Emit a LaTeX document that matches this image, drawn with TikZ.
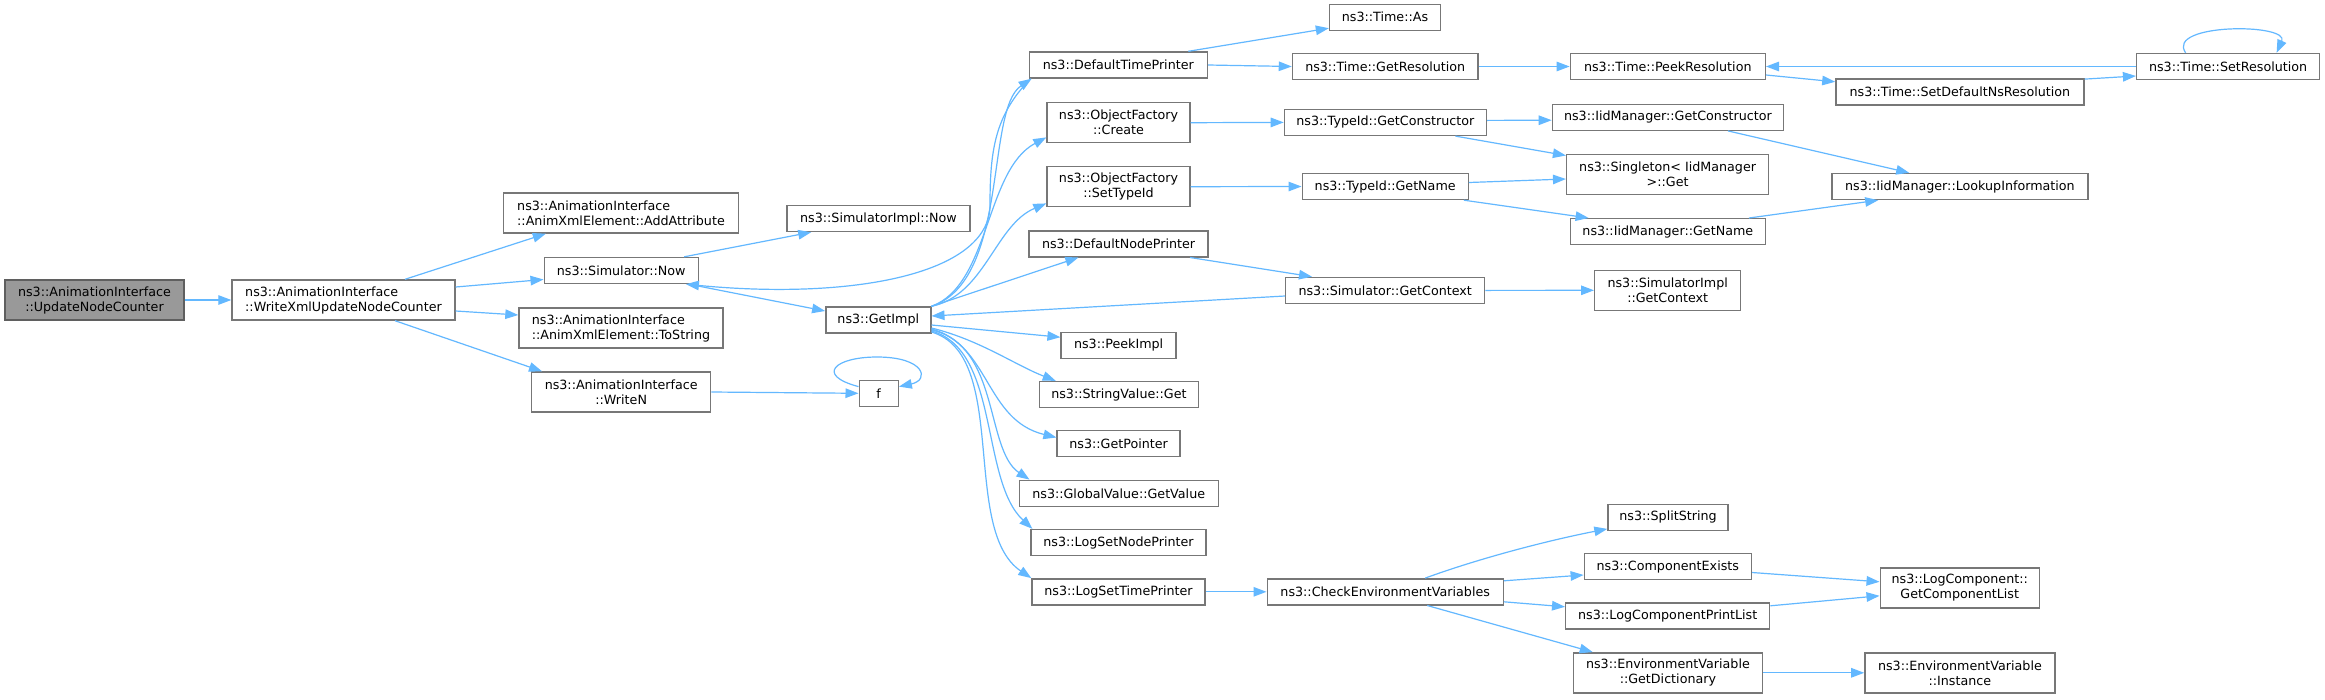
\documentclass[tikz,border=0pt]{standalone}
\usepackage{fontspec}
\setmainfont{DejaVu Sans}
\usetikzlibrary{arrows.meta}
\definecolor{edgeblue}{HTML}{63B8FF}
\definecolor{boxline}{HTML}{777777}
\definecolor{rootfill}{HTML}{999999}
\tikzset{
  fn/.style={draw=boxline, line width=1.4pt, fill=white, inner sep=0pt, text=black,
    font=\fontsize{12.7}{15}\selectfont},
  fnl/.style={fn, align=left},
  fnc/.style={fn, align=center},
  rootnode/.style={fnc, fill=rootfill, draw=boxline!80!black},
  edge/.style={draw=edgeblue, line width=1.2pt, -{Triangle[length=13pt,width=9.5pt]}},
}
\begin{document}
\begin{tikzpicture}[x=1pt,y=-1pt]
\fill[white] (0,0) rectangle (2325,699);
\useasboundingbox (0,0) rectangle (2325,699);
% column 0/1/2
\node[rootnode, minimum width=179pt, minimum height=40pt] (unc) at (94.5,300) {ns3::AnimationInterface\\::UpdateNodeCounter};
\node[fnl, minimum width=223pt, minimum height=40pt] (wx) at (343.5,300) {ns3::AnimationInterface\\::WriteXmlUpdateNodeCounter};
\node[fnl, minimum width=235pt, minimum height=40pt] (add) at (621,213) {ns3::AnimationInterface\\::AnimXmlElement::AddAttribute};
\node[fn, minimum width=154pt, minimum height=26pt] (now) at (621.2,270.5) {ns3::Simulator::Now};
\node[fnl, minimum width=204pt, minimum height=40pt] (tos) at (621,328) {ns3::AnimationInterface\\::AnimXmlElement::ToString};
\node[fnc, minimum width=179pt, minimum height=40pt] (wn) at (621.2,392) {ns3::AnimationInterface\\::WriteN};
\node[fn, minimum width=183pt, minimum height=26pt] (simnow) at (878.4,218.5) {ns3::SimulatorImpl::Now};
\node[fn, minimum width=105pt, minimum height=26pt] (gi) at (878.3,320) {ns3::GetImpl};
\node[fn, minimum width=39pt, minimum height=26pt] (f) at (878.7,393.3) {f};
% column GetImpl children
\node[fn, minimum width=178pt, minimum height=26pt] (dtp) at (1118.3,65) {ns3::DefaultTimePrinter};
\node[fnc, minimum width=143pt, minimum height=40pt] (ofc) at (1118.5,122.7) {ns3::ObjectFactory\\::Create};
\node[fnc, minimum width=143pt, minimum height=40pt] (ofs) at (1118.5,186.7) {ns3::ObjectFactory\\::SetTypeId};
\node[fn, minimum width=179pt, minimum height=26pt] (dnp) at (1118.6,243.8) {ns3::DefaultNodePrinter};
\node[fn, minimum width=115pt, minimum height=26pt] (pki) at (1118.6,345.2) {ns3::PeekImpl};
\node[fn, minimum width=159pt, minimum height=26pt] (svg) at (1118.9,394.5) {ns3::StringValue::Get};
\node[fn, minimum width=123pt, minimum height=26pt] (gp) at (1118.6,443.7) {ns3::GetPointer};
\node[fn, minimum width=199pt, minimum height=26pt] (gv) at (1118.7,493.3) {ns3::GlobalValue::GetValue};
\node[fn, minimum width=175pt, minimum height=26pt] (lsnp) at (1118.5,542.5) {ns3::LogSetNodePrinter};
\node[fn, minimum width=173pt, minimum height=26pt] (lstp) at (1118.5,591.8) {ns3::LogSetTimePrinter};
% column 3
\node[fn, minimum width=111pt, minimum height=26pt] (tas) at (1385,17.2) {ns3::Time::As};
\node[fn, minimum width=185.5pt, minimum height=26pt] (tgr) at (1385.2,66.5) {ns3::Time::GetResolution};
\node[fn, minimum width=202pt, minimum height=26pt] (tgc) at (1385.4,122.4) {ns3::TypeId::GetConstructor};
\node[fn, minimum width=166pt, minimum height=26pt] (tgn) at (1385.2,186.5) {ns3::TypeId::GetName};
\node[fn, minimum width=199pt, minimum height=26pt] (sgc) at (1385.2,290.4) {ns3::Simulator::GetContext};
\node[fn, minimum width=236pt, minimum height=26pt] (cev) at (1385.2,591.8) {ns3::CheckEnvironmentVariables};
% column 4
\node[fn, minimum width=195pt, minimum height=26pt] (tpr) at (1667.8,66.5) {ns3::Time::PeekResolution};
\node[fn, minimum width=231pt, minimum height=26pt] (igc) at (1667.9,117.2) {ns3::IidManager::GetConstructor};
\node[fnc, minimum width=202pt, minimum height=40pt] (sng) at (1667.6,174.7) {ns3::Singleton< IidManager\\>::Get};
\node[fn, minimum width=195pt, minimum height=26pt] (ign) at (1667.8,231.7) {ns3::IidManager::GetName};
\node[fnc, minimum width=146pt, minimum height=40pt] (sigc) at (1667.7,290.3) {ns3::SimulatorImpl\\::GetContext};
\node[fn, minimum width=120pt, minimum height=26pt] (ss) at (1668,517.2) {ns3::SplitString};
\node[fn, minimum width=167pt, minimum height=26pt] (ce) at (1667.8,566.5) {ns3::ComponentExists};
\node[fn, minimum width=204pt, minimum height=26pt] (lcpl) at (1667.7,615.8) {ns3::LogComponentPrintList};
\node[fnc, minimum width=189pt, minimum height=40pt] (gd) at (1667.9,672.8) {ns3::EnvironmentVariable\\::GetDictionary};
% column 5/6
\node[fn, minimum width=248pt, minimum height=26pt] (sdns) at (1959.9,91.8) {ns3::Time::SetDefaultNsResolution};
\node[fn, minimum width=256pt, minimum height=26pt] (lki) at (1959.9,186.5) {ns3::IidManager::LookupInformation};
\node[fnc, minimum width=159pt, minimum height=40pt] (gcl) at (1959.7,587.8) {ns3::LogComponent::\\GetComponentList};
\node[fnc, minimum width=190pt, minimum height=40pt] (inst) at (1959.9,672.8) {ns3::EnvironmentVariable\\::Instance};
\node[fn, minimum width=183pt, minimum height=26pt] (tsr) at (2228.1,66.5) {ns3::Time::SetResolution};

% edges
\draw[edge] (unc.east) -- (wx.west);
\draw[edge] ([xshift=61.5pt]wx.north) -- ([xshift=43pt]add.south west);
\draw[edge] ([yshift=13pt]wx.east) -- ([yshift=-9pt]now.west);
\draw[edge] ([yshift=-11pt]wx.east) -- ([yshift=13pt]tos.west);
\draw[edge] ([xshift=51.5pt]wx.south) -- ([xshift=11pt]wn.north west);
\draw[edge] ([xshift=63pt]now.north) -- ([xshift=25pt]simnow.south west);
\draw[edge] ([xshift=-10pt]now.south east) -- ([yshift=9pt]gi.west);
\draw[edge] ([xshift=2pt]dtp.south west) .. controls (995,115) and (990,150) .. (990,205)
   .. controls (990,275) and (850,300) .. ([xshift=-13pt]now.south east);
\draw[edge] (gi.north east) .. controls (1010,280) and (985,110) .. ([xshift=3pt]dtp.south west);
\draw[edge] (gi.north east) .. controls (990,285) and (985,170) .. ([yshift=6pt]ofc.south west);
\draw[edge] (gi.north east) .. controls (985,295) and (995,225) .. ([yshift=4pt]ofs.south west);
\draw[edge] (gi.north east) -- ([xshift=50pt]dnp.south west);
\draw[edge] ([yshift=-5.6pt]sgc.west) -- ([yshift=4pt]gi.east);
\draw[edge] ([yshift=-5pt]gi.east) -- ([yshift=8pt]pki.west);
\draw[edge] ([yshift=-8pt]gi.east) .. controls (980,340) and (1015,365) .. ([xshift=17pt]svg.north west);
\draw[edge] ([yshift=-9pt]gi.east) .. controls (990,345) and (985,420) .. ([yshift=-7.5pt]gp.north west);
\draw[edge] ([yshift=-10pt]gi.east) .. controls (1000,345) and (985,450) .. ([xshift=11pt]gv.north west);
\draw[edge] ([yshift=-11pt]gi.east) .. controls (1000,350) and (980,480) .. ([xshift=2pt]lsnp.north west);
\draw[edge] ([yshift=-12pt]gi.east) .. controls (1010,355) and (960,530) .. (lstp.north west);
\draw[edge] ([xshift=70pt]dtp.north) -- ([yshift=-11pt]tas.west);
\draw[edge] (dtp.east) -- (tgr.west);
\draw[edge] (tgr.east) -- (tpr.west);
\draw[edge] ([yshift=-8.5pt]tpr.east) -- ([yshift=10pt]sdns.west);
\draw[edge] ([yshift=-1pt]sdns.north east) -- ([yshift=-9.5pt]tsr.west);
\draw[edge] (tsr.west) -- (tpr.east);
\draw[edge] ([xshift=-42.5pt]tsr.north) .. controls (2165,23) and (2290,23) .. ([xshift=48.5pt]tsr.north);
\draw[edge] (ofc.east) -- (tgc.west);
\draw[edge] ([yshift=2pt]tgc.east) -- ([yshift=-3pt]igc.west);
\draw[edge] ([xshift=70pt]tgc.south) -- ([yshift=-1.5pt]sng.north west);
\draw[edge] ([xshift=60pt]igc.south) -- ([xshift=78pt]lki.north west);
\draw[edge] (ofs.east) -- (tgn.west);
\draw[edge] ([yshift=4pt]tgn.east) -- ([yshift=-4.3pt]sng.west);
\draw[edge] ([xshift=-5pt]tgn.south east) -- ([xshift=19pt]ign.north west);
\draw[edge] ([xshift=-17pt]ign.north east) -- ([xshift=47pt]lki.south west);
\draw[edge] ([xshift=71.4pt]dnp.south) -- ([xshift=27pt]sgc.north west);
\draw[edge] (sgc.east) -- (sigc.west);
\draw[edge] (wn.east) -- (f.west);
\draw[edge] ([yshift=-7pt]f.north west) .. controls (815,375) and (835,357) .. (877,357)
   .. controls (925,357) and (930,380) .. ([yshift=-7pt]f.north east);
\draw[edge] (lstp.east) -- (cev.west);
\draw[edge] ([xshift=40pt]cev.north) .. controls (1480,558) and (1550,540) .. ([yshift=2pt]ss.south west);
\draw[edge] ([yshift=11pt]cev.east) -- ([yshift=-8.5pt]ce.west);
\draw[edge] ([yshift=-10pt]cev.east) -- ([yshift=9pt]lcpl.west);
\draw[edge] ([xshift=42pt]cev.south) -- ([xshift=20pt]gd.north west);
\draw[edge] ([yshift=-6pt]ce.east) -- ([yshift=6pt]gcl.west);
\draw[edge] ([yshift=10pt]lcpl.east) -- ([yshift=-8pt]gcl.west);
\draw[edge] (gd.east) -- (inst.west);
\end{tikzpicture}
\end{document}
